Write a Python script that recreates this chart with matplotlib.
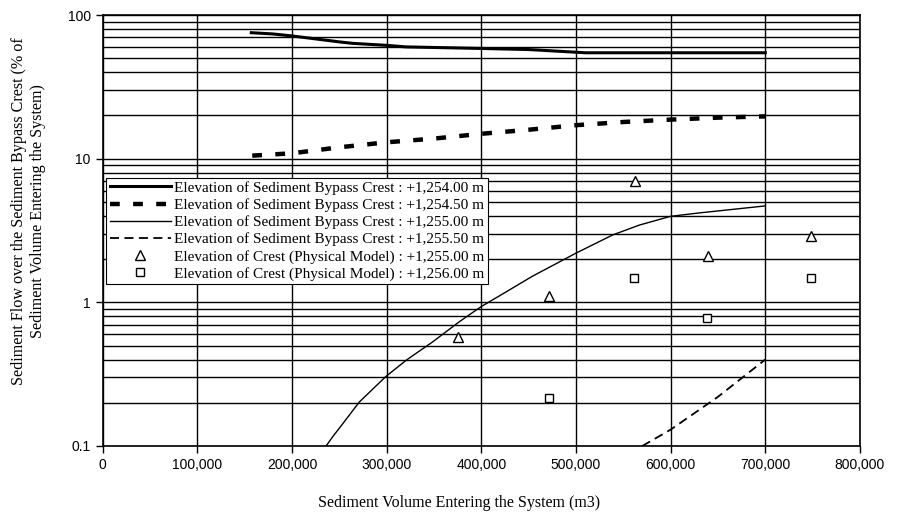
import numpy as np
import matplotlib
matplotlib.use('Agg')
import matplotlib.pyplot as plt
from matplotlib.ticker import FuncFormatter, LogLocator, NullFormatter

# values
crest_1254_00_x = [157000, 180000, 200000, 250000, 264000, 300000, 320000, 400000, 450000, 510000, 600000, 700000]
crest_1254_00_y = [75.3, 73.8, 71.5, 65.0, 63.5, 61.5, 60.0, 58.5, 57.5, 54.6, 54.6, 54.6]

crest_1254_50_x = [158000, 200000, 250000, 300000, 350000, 400000, 450000, 500000, 550000, 600000, 650000, 700000]
crest_1254_50_y = [10.5, 10.9, 12.0, 13.0, 13.8, 14.9, 15.9, 17.1, 18.0, 18.7, 19.3, 19.7]

crest_1255_00_x = [236000, 243000, 254000, 271000, 299000, 321000, 349000, 377000, 400000, 426000,
                   454000, 500000, 539000, 567000, 600000, 630000, 700000]
crest_1255_00_y = [0.1, 0.116, 0.144, 0.202, 0.304, 0.397, 0.533, 0.735, 0.935, 1.18,
                   1.52, 2.20, 2.95, 3.45, 3.97, 4.19, 4.69]

crest_1255_50_x = [570000, 600000, 650000, 700000]
crest_1255_50_y = [0.1, 0.13, 0.22, 0.40]

model_1255_x = [375000, 472000, 562000, 639000, 748500]
model_1255_y = [0.57, 1.11, 6.97, 2.10, 2.88]

model_1256_x = [471000, 561000, 638500, 748000]
model_1256_y = [0.215, 1.48, 0.78, 1.48]

labels = ['Elevation of Sediment Bypass Crest : +1,254.00 m',
          'Elevation of Sediment Bypass Crest : +1,254.50 m',
          'Elevation of Sediment Bypass Crest : +1,255.00 m',
          'Elevation of Sediment Bypass Crest : +1,255.50 m',
          'Elevation of Crest (Physical Model) : +1,255.00 m',
          'Elevation of Crest (Physical Model) : +1,256.00 m']

fig = plt.figure(figsize=(8.99, 5.14), dpi=100)
ax = fig.add_axes([0.1142, 0.1323, 0.8424, 0.8385])

ax.plot(crest_1254_00_x, crest_1254_00_y, color='black', lw=2.2, label=labels[0])
ax.plot(crest_1254_50_x, crest_1254_50_y, color='black', lw=3.2, linestyle=(0, (2.2, 3.0)), label=labels[1])
ax.plot(crest_1255_00_x, crest_1255_00_y, color='black', lw=1.0, label=labels[2])
ax.plot(crest_1255_50_x, crest_1255_50_y, color='black', lw=1.3, linestyle=(0, (5, 3)), label=labels[3])
ax.plot(model_1255_x, model_1255_y, linestyle='none', marker='^', markersize=7,
        markerfacecolor='white', markeredgecolor='black', markeredgewidth=1.0, label=labels[4])
ax.plot(model_1256_x, model_1256_y, linestyle='none', marker='s', markersize=6,
        markerfacecolor='white', markeredgecolor='black', markeredgewidth=1.0, label=labels[5])

ax.set_yscale('log')
ax.set_xlim(0, 800000)
ax.set_ylim(0.1, 100)

ax.set_xticks(np.arange(0, 800001, 100000))
ax.xaxis.set_major_formatter(FuncFormatter(lambda v, p: '{:,.0f}'.format(v)))
ax.yaxis.set_major_locator(LogLocator(base=10))
ax.yaxis.set_minor_locator(LogLocator(base=10, subs=np.arange(2, 10)))
ax.yaxis.set_major_formatter(FuncFormatter(lambda v, p: '{:g}'.format(v)))
ax.yaxis.set_minor_formatter(NullFormatter())

ax.grid(True, which='major', axis='both', color='black', lw=1.0)
ax.grid(True, which='minor', axis='y', color='black', lw=1.0)
ax.set_axisbelow(True)

for s in ax.spines.values():
    s.set_linewidth(1.2)
ax.tick_params(axis='both', which='major', direction='out', length=5, width=1,
               labelsize=10, labelfontfamily='Liberation Sans')
ax.tick_params(axis='y', which='minor', length=0)

ax.set_xlabel('Sediment Volume Entering the System (m3)', family='Liberation Serif', fontsize=11.5)
ax.set_ylabel('Sediment Flow over the Sediment Bypass Crest (% of\nSediment Volume Entering the System)',
              family='Liberation Serif', fontsize=11.6)
ax.xaxis.set_label_coords(0.4705, -0.114)
ax.yaxis.set_label_coords(-0.075, 0.545)

leg = ax.legend(loc='upper left', bbox_to_anchor=(0.005, 0.622), prop={'family': 'Liberation Serif', 'size': 11},
                fancybox=False, framealpha=1, edgecolor='black', handlelength=4.0, handletextpad=0.25,
                labelspacing=0.22, borderpad=0.2, borderaxespad=0)
leg.get_frame().set_linewidth(0.8)

fig.savefig('out.png', dpi=100)
